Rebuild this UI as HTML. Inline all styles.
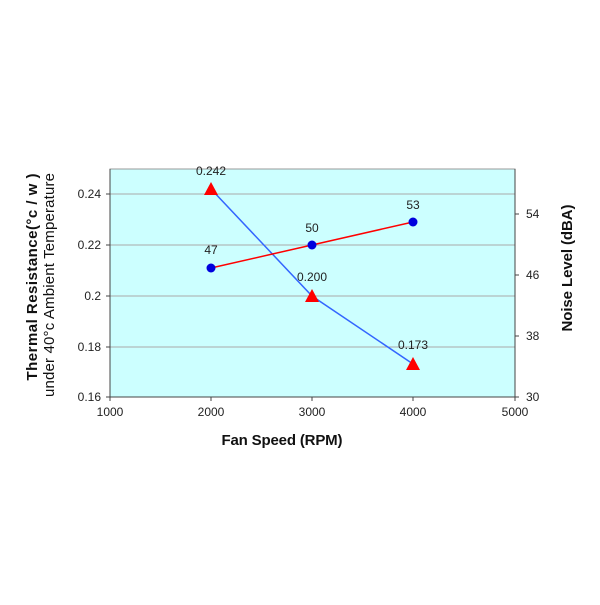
<!DOCTYPE html>
<html><head><style>body{margin:0;background:#fff}</style></head><body>
<svg width="600" height="600" xmlns="http://www.w3.org/2000/svg" font-family="Liberation Sans, sans-serif">
<rect x="110" y="169" width="405" height="228" fill="#ccffff" stroke="#999" stroke-width="1"/>
<g stroke="#aaa" stroke-width="1">
<line x1="110" x2="515" y1="194" y2="194"/>
<line x1="110" x2="515" y1="245" y2="245"/>
<line x1="110" x2="515" y1="296" y2="296"/>
<line x1="110" x2="515" y1="347" y2="347"/>
</g>
<g stroke="#444" stroke-width="1">
<line x1="110" x2="110" y1="169" y2="397"/>
<line x1="515" x2="515" y1="169" y2="397"/>
<line x1="110" x2="515" y1="397" y2="397"/>
<line x1="106" x2="110" y1="194" y2="194"/><line x1="106" x2="110" y1="245" y2="245"/><line x1="106" x2="110" y1="296" y2="296"/><line x1="106" x2="110" y1="347" y2="347"/><line x1="106" x2="110" y1="397" y2="397"/>
<line x1="515" x2="519" y1="214" y2="214"/><line x1="515" x2="519" y1="275" y2="275"/><line x1="515" x2="519" y1="336" y2="336"/><line x1="515" x2="519" y1="397" y2="397"/>
<line x1="110" x2="110" y1="397" y2="401"/><line x1="211" x2="211" y1="397" y2="401"/><line x1="312" x2="312" y1="397" y2="401"/><line x1="413" x2="413" y1="397" y2="401"/><line x1="515" x2="515" y1="397" y2="401"/>
</g>
<g font-size="12" fill="#222" text-anchor="end">
<text x="101" y="198">0.24</text><text x="101" y="249">0.22</text><text x="101" y="300">0.2</text><text x="101" y="351">0.18</text><text x="101" y="401">0.16</text>
</g>
<g font-size="12" fill="#222">
<text x="526" y="218">54</text><text x="526" y="279">46</text><text x="526" y="340">38</text><text x="526" y="401">30</text>
</g>
<g font-size="12" fill="#222" text-anchor="middle">
<text x="110" y="416">1000</text><text x="211" y="416">2000</text><text x="312" y="416">3000</text><text x="413" y="416">4000</text><text x="515" y="416">5000</text>
</g>
<polyline points="211,189 312,296 413,364" fill="none" stroke="#3366ff" stroke-width="1.5"/>
<polyline points="211,268 312,245 413,222" fill="none" stroke="#ff0000" stroke-width="1.5"/>
<g fill="#ff0000"><polygon points="211,182 218,195 204,195"/><polygon points="312,289 319,302 305,302"/><polygon points="413,357 420,370 406,370"/></g>
<g fill="#0000dd"><circle cx="211" cy="268" r="4.5"/><circle cx="312" cy="245" r="4.5"/><circle cx="413" cy="222" r="4.5"/></g>
<g font-size="12" fill="#222" text-anchor="middle">
<text x="211" y="175">0.242</text><text x="312" y="281">0.200</text><text x="413" y="349">0.173</text>
<text x="211" y="254">47</text><text x="312" y="232">50</text><text x="413" y="209">53</text>
</g>
<text x="282" y="445" font-size="15" font-weight="bold" text-anchor="middle" fill="#111" textLength="121">Fan Speed (RPM)</text>
<text transform="translate(37,277) rotate(-90)" font-size="15" font-weight="bold" text-anchor="middle" fill="#111" textLength="207">Thermal Resistance(°c / w )</text>
<text transform="translate(54,285) rotate(-90)" font-size="15" text-anchor="middle" fill="#111" textLength="224">under  40°c  Ambient  Temperature</text>
<text transform="translate(572,268) rotate(-90)" font-size="15" font-weight="bold" text-anchor="middle" fill="#111" textLength="127">Noise Level (dBA)</text>
</svg>
</body></html>
